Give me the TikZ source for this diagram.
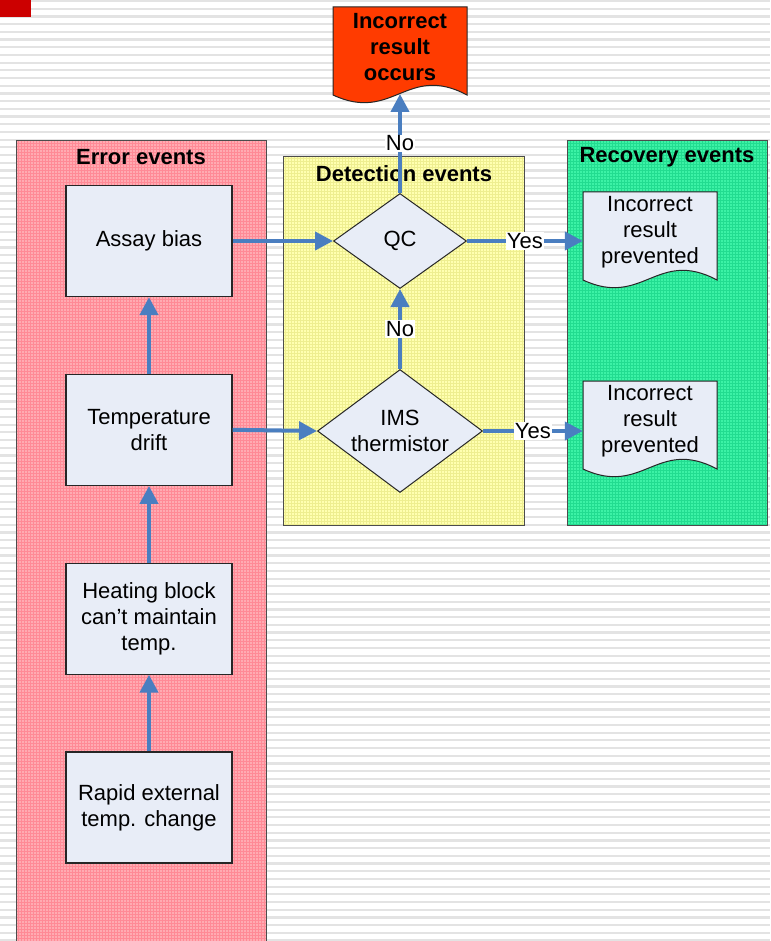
\documentclass[tikz,border=0pt]{standalone}
\usepackage{fontspec}
\setmainfont{Liberation Sans}
\usetikzlibrary{positioning,shapes.geometric,arrows.meta,patterns}

\pgfdeclarelayer{panels}
\pgfdeclarelayer{docs}
\pgfsetlayers{panels,docs,main}

\definecolor{errpink}{HTML}{FFABB2}
\definecolor{errline}{HTML}{FF8A96}
\definecolor{detyellow}{HTML}{FFFFB0}
\definecolor{detline}{HTML}{EEEE90}
\definecolor{recgreen}{HTML}{3CF2A6}
\definecolor{recline}{HTML}{22DC90}
\definecolor{boxblue}{HTML}{E8EDF7}
\definecolor{flowblue}{HTML}{4A7EC0}
\definecolor{occurred}{HTML}{FF3B00}
\definecolor{redmark}{HTML}{CC0000}

% document shape: flat top, wavy bottom, drawn round a node
\newcommand{\docoutline}[2]{%
	\draw[docline,fill=#2] ([shift={(-67pt,40pt)}]#1.center) -- ([shift={(67pt,40pt)}]#1.center)
	-- ([shift={(67pt,-48pt)}]#1.center)
	.. controls +(-60pt,32pt) and +(60pt,-28pt) .. ([shift={(-67pt,-48pt)}]#1.center) -- cycle;}

\begin{document}
\begin{tikzpicture}[x=1pt,y=-1pt,
	font=\fontsize{22}{26}\selectfont,
	eventbox/.style={draw=black!85,line width=1.2pt,fill=boxblue,minimum width=166pt,
		minimum height=111pt,align=center,inner sep=2pt},
	check/.style={diamond,draw=black!85,line width=1pt,fill=boxblue,align=center,inner sep=0pt},
	docbox/.style={minimum width=134pt,inner xsep=0pt,align=center},
	docline/.style={draw=black!85,line width=1pt},
	panel/.style={draw=black!70,line width=1pt},
	paneltitle/.style={font=\fontsize{22}{26}\selectfont\bfseries},
	stripe/.style={fill=black!11},
	flow/.style={draw=flowblue,line width=4pt,-{Triangle[length=18pt,width=18pt]}},
	answer/.style={fill=white,inner sep=1pt}]
	\useasboundingbox (0,0) rectangle (770,941);
	% Background and panels
	\begin{pgfonlayer}{panels}
		\fill[white] (0,0) rectangle (770,941);
		\foreach \k in {0,...,122}
			\fill[stripe] (0,7.7*\k) rectangle (770,7.7*\k+2.2);
		\fill[redmark] (0,0) rectangle (31,17);
		\fill[errpink] (16,141) rectangle (266,945);
		\fill[pattern=grid,pattern color=errline] (16,141) rectangle (266,945);
		\draw[panel] (16,141) rectangle (266,945);
		\fill[detyellow] (283,157) rectangle (524,525);
		\fill[pattern=grid,pattern color=detline] (283,157) rectangle (524,525);
		\draw[panel] (283,157) rectangle (524,525);
		\fill[recgreen] (567,141) rectangle (767,525);
		\fill[pattern=grid,pattern color=recline] (567,141) rectangle (767,525);
		\draw[panel] (567,141) rectangle (767,525);
	\end{pgfonlayer}
	\node[paneltitle] (errtitle) at (141,157) {Error events};
	\node[paneltitle] (dettitle) at (404,174) {Detection events};
	\node[paneltitle] (rectitle) at (667,157) {Recovery events};
	% Error events
	\node[eventbox] (assay) at (149,241) {Assay bias};
	\node[eventbox,below=76.6pt of assay] (drift) {Temperature\\drift};
	\node[eventbox,below=76.6pt of drift] (heating) {Heating block\\can’t maintain\\temp.};
	\node[eventbox,below=76.6pt of heating] (rapid) {Rapid external\\temp. change};
	% Detection events
	\node[check,minimum width=133pt,minimum height=95pt] (qc) at (400,241) {QC};
	\node[check,aspect=1.34,minimum width=165pt,minimum height=123pt] (ims) at (400,431) {IMS\\thermistor};
	% Outcomes
	\node[docbox,font=\fontsize{22}{26}\selectfont\bfseries] (occurs) at (400,47) {Incorrect\\result\\occurs};
	\node[docbox] (saved1) at (650,232) {Incorrect\\result\\prevented};
	\node[docbox] (saved2) at (650,421) {Incorrect\\result\\prevented};
	\begin{pgfonlayer}{docs}
		\docoutline{occurs}{occurred}
		\docoutline{saved1}{boxblue}
		\docoutline{saved2}{boxblue}
	\end{pgfonlayer}
	% Connectors
	\draw[flow] (rapid.north) -- (heating.south);
	\draw[flow] (heating.north) -- (drift.south);
	\draw[flow] (drift.north) -- (assay.south);
	\draw[flow] (assay.east) -- (qc.west);
	\draw[flow] (drift.east) -- (ims.west);
	\draw[flow] (qc.east) -- node[answer] {Yes} (qc.east -| saved1.west);
	\draw[flow] (ims.east) -- node[answer] {Yes} (ims.east -| saved2.west);
	\draw[flow] (ims.north) -- node[answer] {No} (qc.south);
	\draw[flow] (qc.north) -- node[answer] {No} ([yshift=-47pt]occurs.center);
\end{tikzpicture}
\end{document}
